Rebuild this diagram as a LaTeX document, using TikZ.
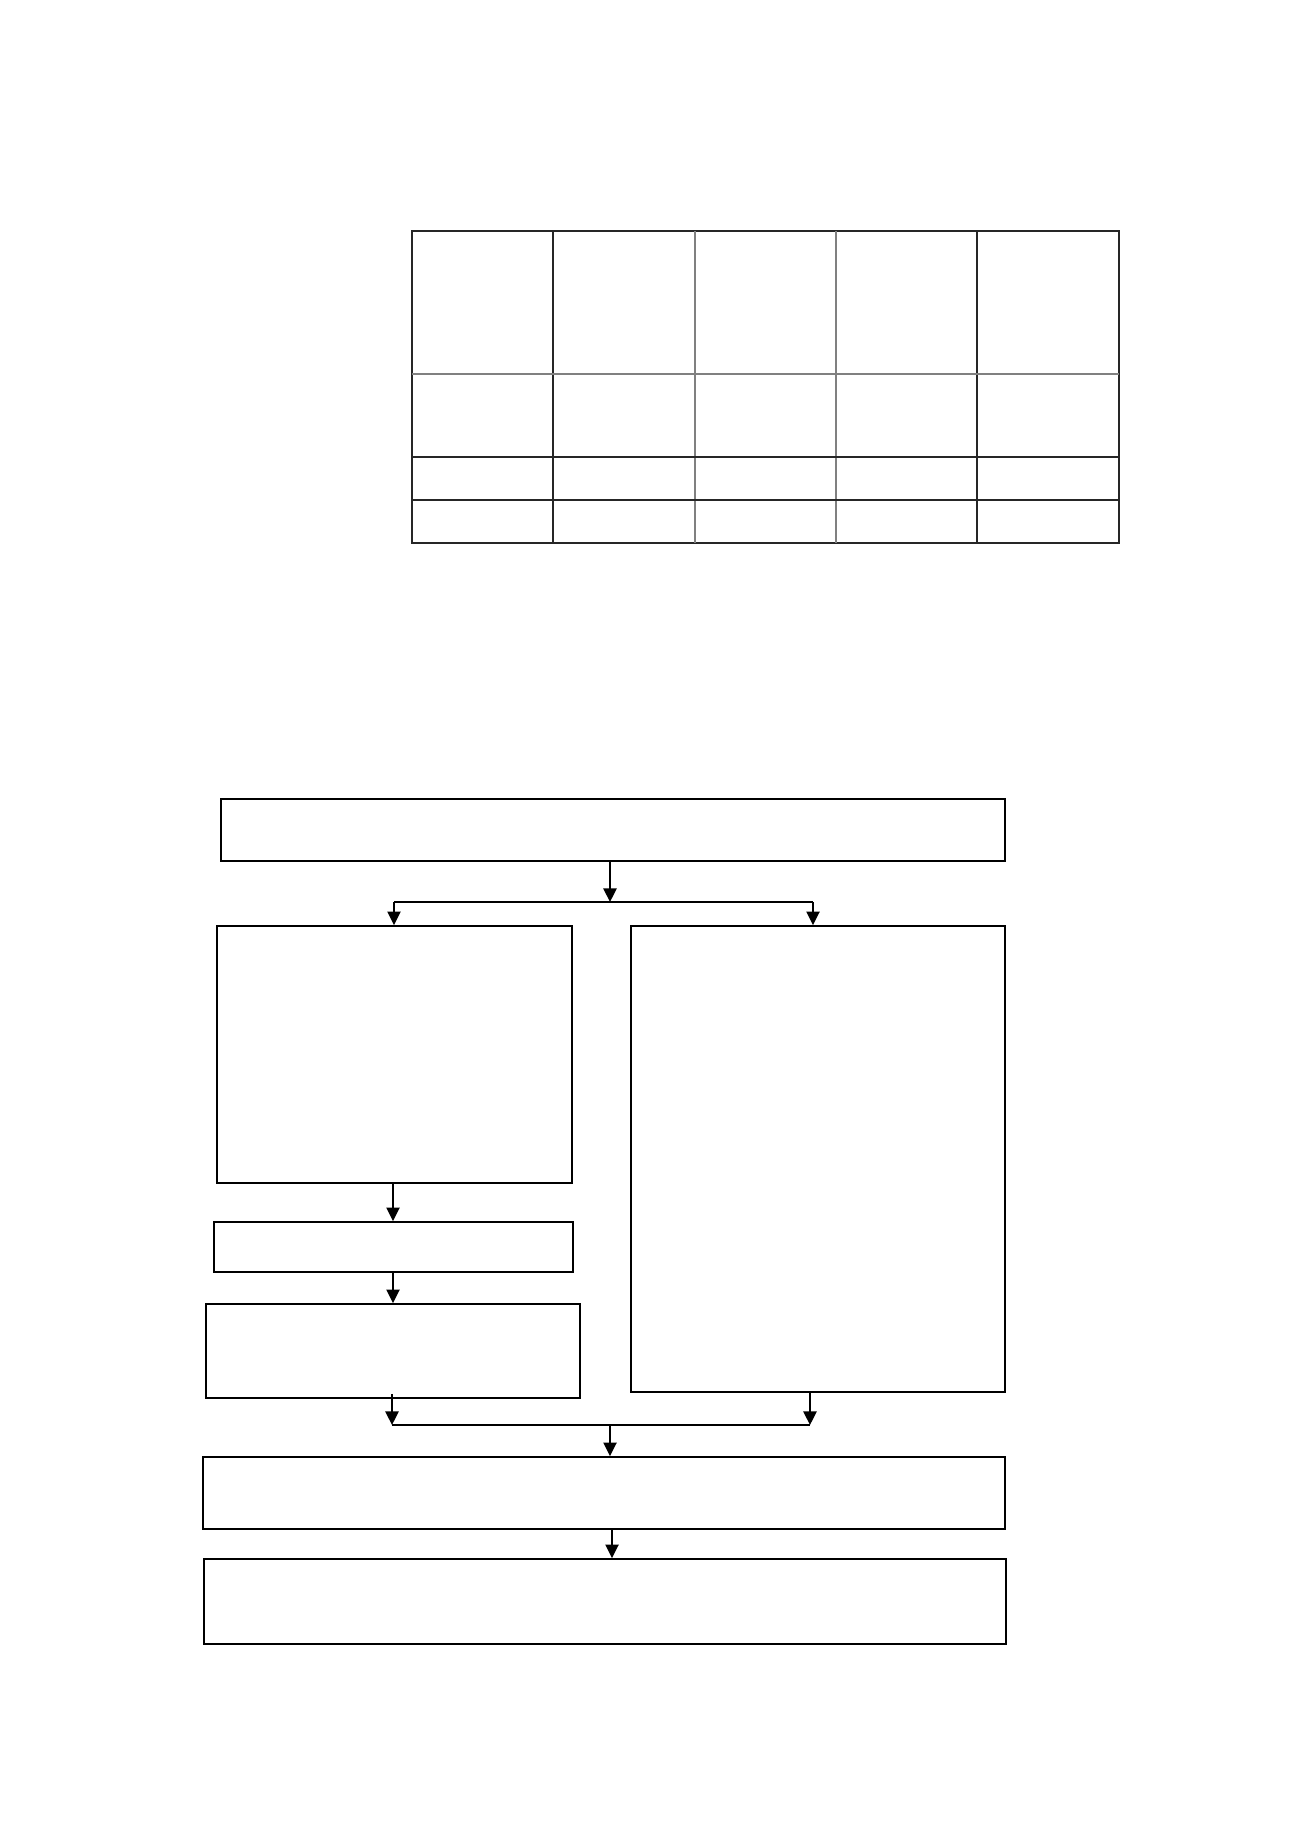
\documentclass[tikz,border=0pt]{standalone}
\usetikzlibrary{positioning,fit,arrows.meta}

\begin{document}
\begin{tikzpicture}[x=0.458pt,y=0.458pt,yscale=-1,xscale=1,
    box/.style={draw,line width=0.8pt,inner sep=0pt},
    flow/.style={line width=0.9pt},
    arrow/.style={flow,-{Triangle[width=6pt,length=6.2pt]}},
    gridline/.style={line width=0.55pt,draw=black!85},
    greyline/.style={line width=0.55pt,draw=black!50}]
    \useasboundingbox (0,0) rectangle (1300,1839);

    %Table: 5 columns, 4 rows, empty cells
    \node [box,line width=0.55pt,draw=black!85,fit={(412,231) (1119,543)}] (tab) {};
    \foreach \x in {553,977}
        \draw [gridline] (\x,231) -- (\x,543);
    \foreach \x in {695,836}
        \draw [greyline] (\x,231) -- (\x,543);
    \draw [greyline] (412,374) -- (1119,374);
    \foreach \y in {457,500}
        \draw [gridline] (412,\y) -- (1119,\y);

    %Flow chart boxes
    \node [box,fit={(221,799) (1005,861)}] (start) {};
    \node [box,fit={(217,926) (572,1183)}] (left) {};
    \node [box,fit={(631,926) (1005,1392)}] (right) {};
    \node [box,fit={(214,1222) (573,1272)}] (mid) {};
    \node [box,fit={(206,1304) (580,1398)}] (low) {};
    \node [box,fit={(203,1457) (1005,1529)}] (merge) {};
    \node [box,fit={(204,1559) (1006,1644)}] (final) {};

    %Split after the first box
    \coordinate (split) at (610,902);
    \coordinate (splitL) at (394,902);
    \coordinate (splitR) at (813,902);
    \draw [arrow] (split |- start.south) -- (split);
    \draw [flow] (splitL) -- (splitR);
    \draw [arrow] (splitL) -- (splitL |- left.north);
    \draw [arrow] (splitR) -- (splitR |- right.north);

    %Left branch
    \coordinate (down) at (393,1200);
    \draw [arrow] (down |- left.south) -- (down |- mid.north);
    \draw [arrow] (down |- mid.south) -- (down |- low.north);

    %Join of both branches
    \coordinate (joinL) at (392,1425);
    \coordinate (joinR) at (810,1425);
    \coordinate (join) at (610,1425);
    \coordinate (last) at (612,1529);
    \draw [arrow] ([yshift=-2.3pt]low.south -| joinL) -- (joinL);
    \draw [arrow] (right.south -| joinR) -- (joinR);
    \draw [flow] (joinL) -- (joinR);
    \draw [arrow] (join) -- (join |- merge.north);
    \draw [arrow] (last |- merge.south) -- (last |- final.north);

\end{tikzpicture}
\end{document}
